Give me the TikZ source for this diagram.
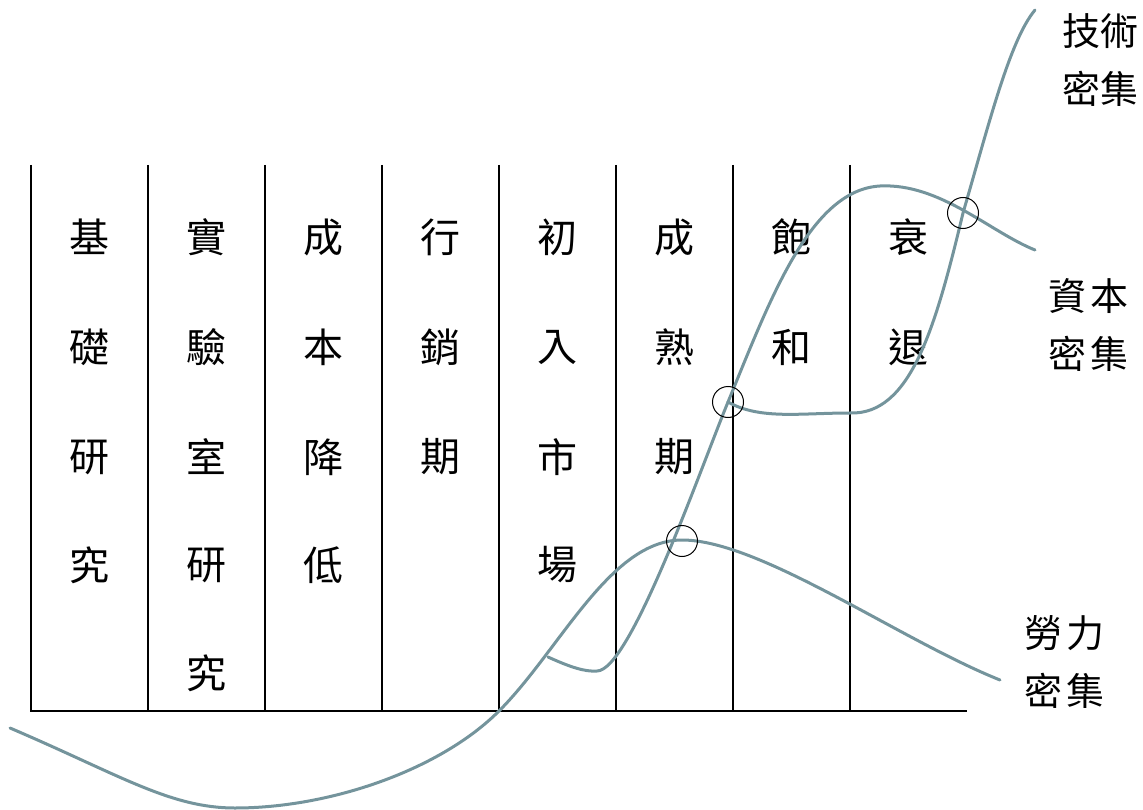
\documentclass[tikz,border=0pt]{standalone}
\usepackage{fontspec}
\newfontfamily\cjk{Noto Sans CJK TC}
\definecolor{curvecol}{RGB}{116,148,156}
\begin{document}
\begin{tikzpicture}[x=1pt,y=-1pt,
  frame/.style={line width=2pt,black},
  curve/.style={line width=3pt,curvecol,line cap=round},
  ring/.style={draw=black,line width=1pt,circle,minimum size=31pt,inner sep=0pt},
  lab/.style={font=\cjk\fontsize{40}{44}\selectfont,inner sep=0pt,align=center},
  side/.style={font=\cjk\fontsize{38}{58}\selectfont,inner sep=0pt,align=center}]
\useasboundingbox (0,0) rectangle (1143,810);
% columns
\foreach \x in {31,148,265,382,499,616,733,850}
  \draw[frame] (\x,165) -- (\x,711);
\draw[frame] (30,711) -- (967,711);
% column labels
\foreach \x/\t [count=\i] in {89.5/基,206.5/實,323.5/成,440.5/行,557.5/初,674.5/成,791.5/飽,908.5/衰}
  \node[lab] (r1c\i) at (\x,237) {\t};
\foreach \x/\t [count=\i] in {89.5/礎,206.5/驗,323.5/本,440.5/銷,557.5/入,674.5/熟,791.5/和,908.5/退}
  \node[lab] (r2c\i) at (\x,347) {\t};
\foreach \x/\t [count=\i] in {89.5/研,206.5/室,323.5/降,440.5/期,557.5/市,674.5/期}
  \node[lab] (r3c\i) at (\x,457) {\t};
\foreach \x/\t [count=\i] in {89.5/究,206.5/研,323.5/低,557.5/場}
  \node[lab] (r4c\i) at (\x,565) {\t};
\node[lab] (r5c2) at (206.5,673) {究};
% side labels
\node[side] (tech) at (1100,60) {技術\\密集};
\node[side] (cap) at (1088,325) {資\hspace{4pt}本\\密\hspace{4pt}集};
\node[side] (lab) at (1064,662) {勞\hspace{4pt}力\\密\hspace{4pt}集};
% labour-intensive curve
\draw[curve] (10,728) .. controls (120,775) and (170,808) .. (235,808)
  .. controls (330,808) and (440,770) .. (499,711)
  .. controls (560,650) and (610,540) .. (682,540)
  .. controls (760,540) and (900,640) .. (1000,680);
% capital-intensive curve
\draw[curve] (548,657) .. controls (570,667) and (585,672) .. (597,671)
  .. controls (630,671) and (700,470) .. (728,402)
  .. controls (770,300) and (810,190) .. (880,186)
  .. controls (940,183) and (990,232) .. (1035,250);
% technology-intensive curve
\draw[curve] (728,402) .. controls (760,420) and (800,413) .. (850,413)
  .. controls (910,415) and (935,330) .. (963,213)
  .. controls (990,120) and (1010,40) .. (1035,10);
% crossing rings
\node[ring] (x1) at (682,541) {};
\node[ring] (x2) at (728,402) {};
\node[ring] (x3) at (963,213) {};
\end{tikzpicture}
\end{document}
